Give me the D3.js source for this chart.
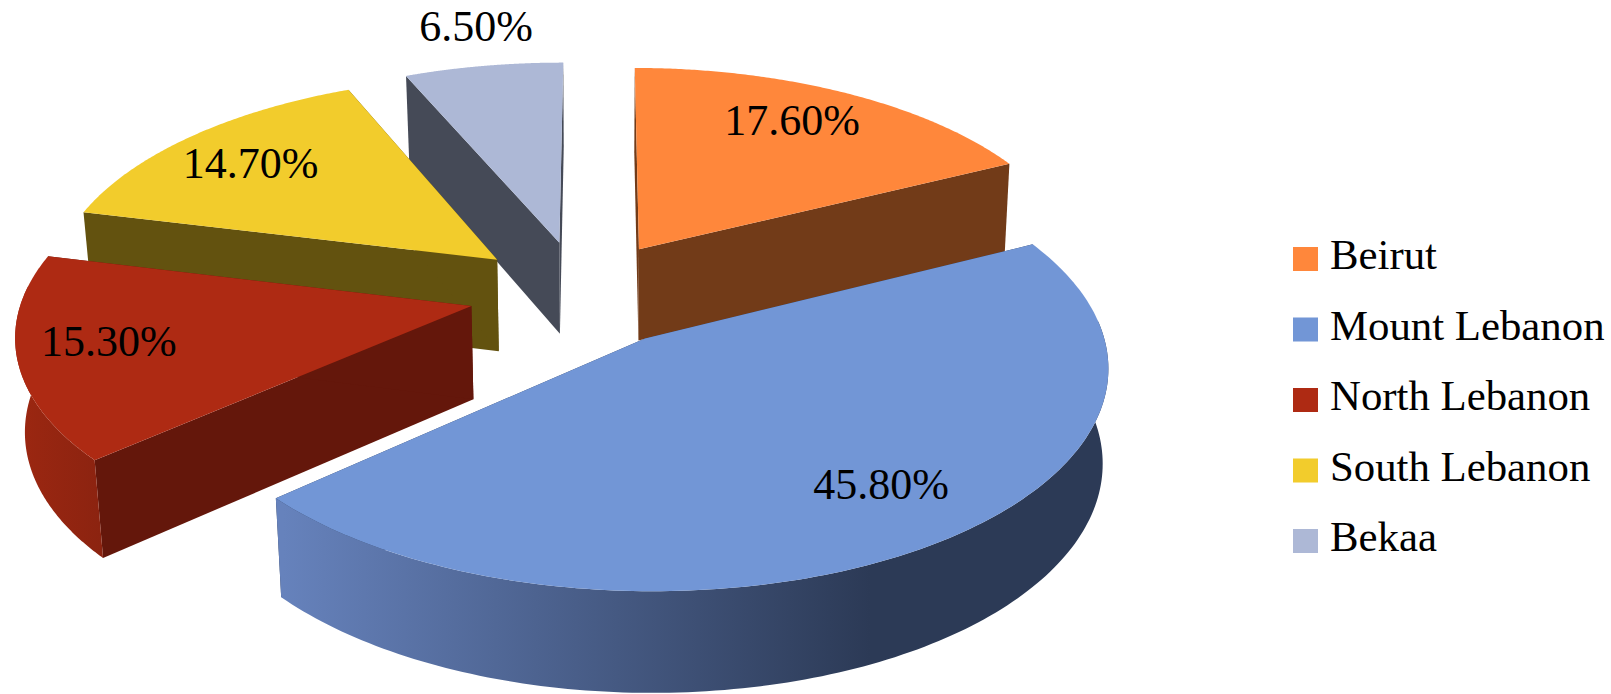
<!DOCTYPE html>
<html>
<head>
<meta charset="utf-8">
<title>Distribution by governorate</title>
<script src="https://cdn.jsdelivr.net/npm/d3@7"></script>
<style>
  html, body { margin: 0; background: #fff; }
  svg { display: block; }
  text { font-family: "Liberation Serif", serif; fill: #000; }
</style>
</head>
<body>
<svg id="chart" width="1611" height="694"></svg>
<script>
// Regions and their shares, in percent
const regions = ["Beirut", "Mount Lebanon", "North Lebanon", "South Lebanon", "Bekaa"];
const shares = [17.6, 45.8, 15.3, 14.7, 6.5];

// Slice colouring
const topColors = ["#ff873b", "#7296d6", "#ae2a13", "#f2cc2c", "#adb8d6"];
const cutColors = ["#723b18", "#2d3b57", "#64170b", "#63520f", "#454a57"];
const rimFrom = ["#723b18", "#6682bc", "#9c2711", "#63520f", "#454a57"];
const rimTo = ["#723b18", "#2c3a56", "#8b2310", "#63520f", "#454a57"];

// Polar placement of each percentage label: radius as a fraction of the pie
// radius, and a turn in degrees away from the slice's middle
const labelRadii = [0.785, 0.77, 0.8, 0.781, 1.247];
const labelTurns = [-2.4, -3.5, 2, -0.9, 1.1];

// Perspective view of the exploded pie; the bottom face narrows towards taperX
const view = { cx: 581.05, cy: 293.33, vx: 587.39, explode: 112.1, radius: 448.2,
               tilt: 0.4732, persp: 0.000259, depth: 94.2, taper: 0.017,
               taperX: 590, taperLeft: 0.017, taperRight: 0.011, start: 0.0027 };

const svg = d3.select("#chart");
const fill = d3.scaleOrdinal().domain(regions).range(topColors);
const cutFill = d3.scaleOrdinal().domain(regions).range(cutColors);

const arcs = d3.pie().sort(null).value(d => d.share)
  .startAngle(view.start).endAngle(view.start + 2 * Math.PI)(
    regions.map((name, i) => ({ name, share: shares[i], index: i })));

// Maps a point given in slice polar form onto the screen; level 0 is the top face, 1 the bottom
function project(slice, angle, r, level) {
  const mid = (slice.startAngle + slice.endAngle) / 2;
  const X = view.explode * Math.sin(mid) + r * Math.sin(angle);
  const Y = -view.explode * Math.cos(mid) - r * Math.cos(angle);
  const s = 1 / (1 - view.persp * Y);
  const x = view.vx + (view.cx - view.vx + X) * s;
  const narrowing = x < view.taperX ? view.taperLeft : view.taperRight;
  return [x + level * narrowing * (view.taperX - x),
          view.cy + (Y * view.tilt + view.depth * level) / (1 / s + view.taper * level)];
}

const outline = d3.line();
const sweep = (a, b, n = 160) => d3.range(n + 1).map(k => a + (b - a) * k / n);

const defs = svg.append("defs");
arcs.forEach(a => {
  const reach = a.data.index === 1 ? [283, 870] : [17, 105];
  const g = defs.append("linearGradient").attr("id", `rim-${a.data.index}`)
    .attr("gradientUnits", "userSpaceOnUse")
    .attr("x1", reach[0]).attr("x2", reach[1]).attr("y1", 0).attr("y2", 0);
  g.append("stop").attr("offset", 0).attr("stop-color", rimFrom[a.data.index]);
  g.append("stop").attr("offset", 1).attr("stop-color", rimTo[a.data.index]);
});

// Paint from the back of the scene to the front
const paintOrder = [4, 0, 3, 2, 1];
const slices = svg.selectAll("g.slice")
  .data(paintOrder.map(i => arcs[i]))
  .join("g").attr("class", "slice");

slices.each(function (a) {
  const g = d3.select(this);
  const angles = sweep(a.startAngle, a.endAngle);
  const edge = (level, list = angles) => list.map(t => project(a, t, view.radius, level));

  [a.startAngle, a.endAngle].forEach(t => {
    g.append("path")
      .attr("d", outline([
        project(a, t, 0, 0), project(a, t, view.radius, 0),
        project(a, t, view.radius, 1), project(a, t, 0, 1)
      ]) + "Z")
      .attr("fill", cutFill(a.data.name));
  });

  // Only the part of the outer wall that faces the viewer is painted
  const facing = angles.filter(t => Math.cos(t) < 0.1);
  if (facing.length > 1) {
    g.append("path")
      .attr("d", outline([...edge(0, facing), ...edge(1, facing).reverse()]) + "Z")
      .attr("fill", `url(#rim-${a.data.index})`);
  }

  g.append("path")
    .attr("d", outline([project(a, 0, 0, 0), ...edge(0)]) + "Z")
    .attr("fill", fill(a.data.name));
});

// Percentage labels
const labelPoint = a => project(
  a,
  (a.startAngle + a.endAngle) / 2 + labelTurns[a.data.index] * Math.PI / 180,
  labelRadii[a.data.index] * view.radius,
  0);
svg.append("g").selectAll("text")
  .data(arcs)
  .join("text")
  .attr("text-anchor", "middle")
  .attr("font-size", 44)
  .attr("x", a => labelPoint(a)[0])
  .attr("y", a => labelPoint(a)[1] + 14)
  .text(a => `${a.data.share.toFixed(2)}%`);

// Legend
const rowY = d3.scalePoint().domain(regions).range([259, 541]);
const legend = svg.append("g").selectAll("g")
  .data(regions)
  .join("g")
  .attr("transform", d => `translate(1293,${rowY(d)})`);
legend.append("rect")
  .attr("x", 0).attr("y", -12).attr("width", 25).attr("height", 24)
  .attr("fill", d => fill(d));
legend.append("text")
  .attr("x", 37).attr("y", 10)
  .attr("font-size", 42.8)
  .text(d => d);
</script>
</body>
</html>
